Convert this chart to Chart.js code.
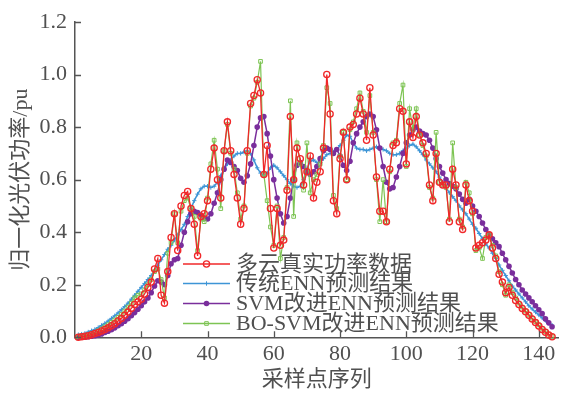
<!DOCTYPE html>
<html>
<head>
<meta charset="utf-8">
<script src="https://cdn.jsdelivr.net/npm/chart.js@4/dist/chart.umd.min.js"></script>
<style>
  html, body { margin: 0; padding: 0; background: #fff; }
  #wrap { width: 564px; height: 393px; position: relative; }
</style>
</head>
<body>
<div id="wrap"><canvas id="chart_container"></canvas></div>
<script>
// sample index 1..144
const sampleIdx = []
for (let i = 1; i <= 144; i++) sampleIdx.push(i)

const seriesNames = ['多云真实功率数据', '传统ENN预测结果', 'SVM改进ENN预测结果', 'BO-SVM改进ENN预测结果']

// 多云真实功率数据
const realPower = [
  0.0, 0.002, 0.004, 0.006, 0.01, 0.014, 0.018, 0.024, 0.03, 0.036,
  0.044, 0.052, 0.062, 0.072, 0.084, 0.096, 0.11, 0.125, 0.135, 0.145,
  0.165, 0.19, 0.21, 0.26, 0.30, 0.16, 0.13, 0.25, 0.38, 0.47,
  0.33, 0.50, 0.54, 0.555, 0.49, 0.43, 0.31, 0.46, 0.47, 0.52,
  0.64, 0.72, 0.60, 0.53, 0.71, 0.82, 0.71, 0.62, 0.53, 0.43,
  0.49, 0.71, 0.89, 0.92, 0.98, 0.93, 0.62, 0.73, 0.49, 0.34,
  0.49, 0.35, 0.37, 0.56, 0.84, 0.60, 0.72, 0.68, 0.58, 0.63,
  0.69, 0.53, 0.59, 0.63, 0.72, 1.00, 0.85, 0.52, 0.47, 0.68,
  0.78, 0.60, 0.80, 0.81, 0.85, 0.91, 0.85, 0.75, 0.95, 0.77,
  0.61, 0.48, 0.48, 0.44, 0.64, 0.73, 0.74, 0.87, 0.86, 0.66,
  0.82, 0.76, 0.84, 0.77, 0.74, 0.70, 0.58, 0.52, 0.70, 0.59,
  0.58, 0.58, 0.44, 0.64, 0.58, 0.44, 0.41, 0.58, 0.52, 0.48,
  0.34, 0.35, 0.36, 0.37, 0.39, 0.34, 0.30, 0.24, 0.21, 0.17,
  0.19, 0.16, 0.14, 0.125, 0.11, 0.097, 0.084, 0.07, 0.056, 0.043,
  0.03, 0.019, 0.009, 0.002
]

// 传统ENN预测结果
const ennPred = [
  0.01, 0.012, 0.015, 0.02, 0.025, 0.03, 0.037, 0.045, 0.053, 0.062,
  0.072, 0.082, 0.093, 0.105, 0.117, 0.13, 0.145, 0.16, 0.175, 0.19,
  0.205, 0.22, 0.235, 0.255, 0.275, 0.295, 0.315, 0.335, 0.35, 0.37,
  0.39, 0.41, 0.43, 0.46, 0.49, 0.52, 0.545, 0.565, 0.575, 0.575,
  0.57, 0.575, 0.59, 0.615, 0.64, 0.66, 0.675, 0.69, 0.70, 0.70,
  0.705, 0.71, 0.70, 0.675, 0.645, 0.625, 0.615, 0.625, 0.645, 0.655,
  0.645, 0.63, 0.615, 0.60, 0.585, 0.575, 0.57, 0.575, 0.60, 0.64,
  0.67, 0.675, 0.665, 0.665, 0.68, 0.695, 0.70, 0.705, 0.715, 0.73,
  0.75, 0.77, 0.765, 0.74, 0.72, 0.715, 0.715, 0.71, 0.715, 0.72,
  0.725, 0.72, 0.715, 0.71, 0.70, 0.695, 0.695, 0.70, 0.71, 0.72,
  0.73, 0.735, 0.725, 0.71, 0.695, 0.675, 0.66, 0.645, 0.63, 0.61,
  0.59, 0.57, 0.55, 0.535, 0.52, 0.50, 0.485, 0.47, 0.45, 0.43,
  0.415, 0.395, 0.375, 0.355, 0.34, 0.32, 0.30, 0.275, 0.255, 0.235,
  0.215, 0.195, 0.18, 0.165, 0.15, 0.135, 0.12, 0.108, 0.096, 0.085,
  0.074, 0.064, 0.055, 0.046
]

// SVM改进ENN预测结果
const svmEnnPred = [
  0.0, 0.0, 0.0, 0.002, 0.004, 0.006, 0.009, 0.013, 0.018, 0.023,
  0.029, 0.036, 0.044, 0.052, 0.061, 0.071, 0.082, 0.094, 0.107, 0.12,
  0.135, 0.15, 0.17, 0.195, 0.215, 0.21, 0.20, 0.235, 0.28, 0.295,
  0.30, 0.35, 0.40, 0.44, 0.47, 0.48, 0.475, 0.465, 0.455, 0.45,
  0.47, 0.51, 0.55, 0.60, 0.64, 0.675, 0.665, 0.65, 0.635, 0.605,
  0.59, 0.615, 0.66, 0.73, 0.80, 0.835, 0.84, 0.775, 0.69, 0.60,
  0.53, 0.47, 0.435, 0.46, 0.53, 0.60, 0.655, 0.665, 0.65, 0.63,
  0.62, 0.63, 0.65, 0.68, 0.71, 0.72, 0.715, 0.70, 0.715, 0.69,
  0.655, 0.635, 0.67, 0.74, 0.775, 0.80, 0.82, 0.84, 0.85, 0.84,
  0.79, 0.72, 0.65, 0.59, 0.565, 0.57, 0.61, 0.65, 0.70, 0.74,
  0.77, 0.79, 0.80, 0.785, 0.775, 0.77, 0.75, 0.72, 0.68, 0.65,
  0.625, 0.60, 0.585, 0.575, 0.565, 0.545, 0.525, 0.51, 0.525, 0.50,
  0.48, 0.46, 0.435, 0.41, 0.39, 0.375, 0.36, 0.345, 0.32, 0.295,
  0.27, 0.245, 0.22, 0.20, 0.18, 0.165, 0.15, 0.135, 0.12, 0.105,
  0.09, 0.07, 0.055, 0.04
]

// BO-SVM改进ENN预测结果
const boSvmEnnPred = [
  0.002, 0.004, 0.007, 0.01, 0.014, 0.019, 0.025, 0.032, 0.04, 0.048,
  0.057, 0.066, 0.076, 0.087, 0.10, 0.115, 0.13, 0.15, 0.16, 0.165,
  0.18, 0.20, 0.22, 0.25, 0.26, 0.22, 0.15, 0.32, 0.36, 0.47,
  0.36, 0.48, 0.52, 0.53, 0.49, 0.46, 0.33, 0.45, 0.44, 0.53,
  0.66, 0.75, 0.64, 0.49, 0.71, 0.81, 0.70, 0.64, 0.55, 0.45,
  0.50, 0.70, 0.88, 0.91, 0.97, 1.05, 0.62, 0.52, 0.42, 0.35,
  0.50, 0.30, 0.38, 0.57, 0.90, 0.46, 0.74, 0.66, 0.56, 0.74,
  0.55, 0.60, 0.62, 0.66, 0.73, 0.95, 0.89, 0.54, 0.49, 0.69,
  0.78, 0.60, 0.79, 0.82, 0.87, 0.93, 0.86, 0.78, 0.92, 0.78,
  0.60, 0.44, 0.60, 0.44, 0.63, 0.74, 0.75, 0.89, 0.96, 0.65,
  0.87, 0.79, 0.87, 0.77, 0.73, 0.69, 0.57, 0.53, 0.78, 0.59,
  0.58, 0.57, 0.45, 0.74, 0.57, 0.45, 0.42, 0.59, 0.55, 0.47,
  0.33, 0.34, 0.30, 0.38, 0.39, 0.35, 0.31, 0.25, 0.20, 0.16,
  0.20, 0.17, 0.15, 0.13, 0.115, 0.10, 0.087, 0.073, 0.06, 0.047,
  0.034, 0.022, 0.012, 0.004
]

const xTickVals = [20, 40, 60, 80, 100, 120, 140]
const yTickVals = [0, 0.2, 0.4, 0.6, 0.8, 1.0, 1.2]

const FONT = "'Liberation Serif', 'Noto Sans CJK SC', serif"
const TXT  = '#505050'
const AXIS = '#555555'

function toPoints(values){
    return values.map((v, k) => ({ x: sampleIdx[k], y: v }))
}

const datasets = [
    {
        label: seriesNames[0], data: toPoints(realPower),
        borderColor: '#f0282a', borderWidth: 1.3,
        pointStyle: 'circle', pointRadius: 3.1, pointBorderWidth: 1.3,
        pointBorderColor: '#f0282a', pointBackgroundColor: 'rgba(255,255,255,0)',
        order: 0
    },
    {
        label: seriesNames[1], data: toPoints(ennPred),
        borderColor: '#3d95d6', borderWidth: 1.5,
        pointStyle: 'cross', pointRadius: 2.2, pointBorderWidth: 1,
        pointBorderColor: '#3d95d6', pointBackgroundColor: '#3d95d6',
        order: 3
    },
    {
        label: seriesNames[2], data: toPoints(svmEnnPred),
        borderColor: '#7a2e9c', borderWidth: 1.5,
        pointStyle: 'circle', pointRadius: 2.8, pointBorderWidth: 0,
        pointBorderColor: '#7a2e9c', pointBackgroundColor: '#7a2e9c',
        order: 2
    },
    {
        label: seriesNames[3], data: toPoints(boSvmEnnPred),
        borderColor: '#7dc453', borderWidth: 1.2,
        pointStyle: 'rect', pointRadius: 2.6, pointBorderWidth: 1,
        pointBorderColor: '#7dc453', pointBackgroundColor: 'rgba(255,255,255,0)',
        order: 1
    }
]

// inward tick marks like the original plot
const innerTicks = {
    id: 'innerTicks',
    afterDraw(chart){
        const ctx = chart.ctx
        const { left, bottom } = chart.chartArea
        const xs = chart.scales.x, ys = chart.scales.y
        ctx.save()
        ctx.strokeStyle = AXIS
        ctx.lineWidth = 1.3
        ctx.beginPath()
        xTickVals.forEach(v => {
            const px = Math.round(xs.getPixelForValue(v)) + 0.5
            ctx.moveTo(px, bottom)
            ctx.lineTo(px, bottom - 6)
        })
        yTickVals.forEach(v => {
            const py = Math.round(ys.getPixelForValue(v)) + 0.5
            ctx.moveTo(left, py)
            ctx.lineTo(left + 6, py)
        })
        ctx.stroke()
        ctx.restore()
    }
}

// legend drawn inside the plot, lines with markers
const innerLegend = {
    id: 'innerLegend',
    afterDatasetsDraw(chart){
        const ctx = chart.ctx
        const x0 = 183, x1 = 230, tx = 236
        const rows = [264, 283.5, 303.5, 323.5]
        ctx.save()
        chart.data.datasets.forEach((ds, k) => {
            const y = rows[k]
            ctx.strokeStyle = ds.borderColor
            ctx.lineWidth = 1.5
            ctx.beginPath()
            ctx.moveTo(x0, y)
            ctx.lineTo(x1, y)
            ctx.stroke()
            ctx.fillStyle = ds.pointBackgroundColor
            ctx.strokeStyle = ds.pointBorderColor
            ctx.lineWidth = ds.pointBorderWidth || 1
            Chart.helpers.drawPoint(ctx, {
                pointStyle: ds.pointStyle, radius: ds.pointRadius,
                rotation: 0, borderWidth: ds.pointBorderWidth
            }, (x0 + x1) / 2, y)
            ctx.fillStyle = TXT
            ctx.font = '22px ' + FONT
            ctx.textBaseline = 'middle'
            ctx.textAlign = 'left'
            ctx.fillText(ds.label, tx, y + 1)
        })
        ctx.restore()
    }
}

const chart = new Chart(document.getElementById('chart_container'), {
    type: 'line',
    data: { datasets: datasets },
    options: {
        responsive: true,
        maintainAspectRatio: false,
        animation: false,
        events: [],
        layout: { padding: { top: 22, right: 2, left: 0, bottom: 0 } },
        elements: { line: { tension: 0 } },
        plugins: {
            legend: { display: false },
            tooltip: { enabled: false },
            title: { display: false }
        },
        datasets: { line: { clip: false } },
        scales: {
            x: {
                type: 'linear',
                min: 0, max: 146,
                afterFit: s => { s.height = 55.7 },
                afterBuildTicks: s => { s.ticks = xTickVals.map(v => ({ value: v })) },
                grid: { display: false, drawTicks: false },
                border: { display: true, color: AXIS, width: 1.5 },
                ticks: {
                    padding: 4, color: TXT, maxRotation: 0, autoSkip: false,
                    font: { family: FONT, size: 22 }
                },
                title: {
                    display: true, text: '采样点序列', color: TXT,
                    font: { family: FONT, size: 22 }, padding: { top: 0, bottom: 0 }
                }
            },
            y: {
                min: 0, max: 1.2,
                afterFit: s => { s.width = 75 },
                afterBuildTicks: s => { s.ticks = yTickVals.map(v => ({ value: v })) },
                grid: { display: false, drawTicks: false },
                border: { display: true, color: AXIS, width: 1.5 },
                ticks: {
                    padding: 8, color: TXT, autoSkip: false,
                    font: { family: FONT, size: 22 },
                    callback: v => v.toFixed(1)
                },
                title: {
                    display: true, text: '归一化光伏功率/pu', color: TXT,
                    font: { family: FONT, size: 22 }, padding: { top: 8, bottom: 0 }
                }
            }
        }
    },
    plugins: [innerTicks, innerLegend]
})
</script>
</body>
</html>
